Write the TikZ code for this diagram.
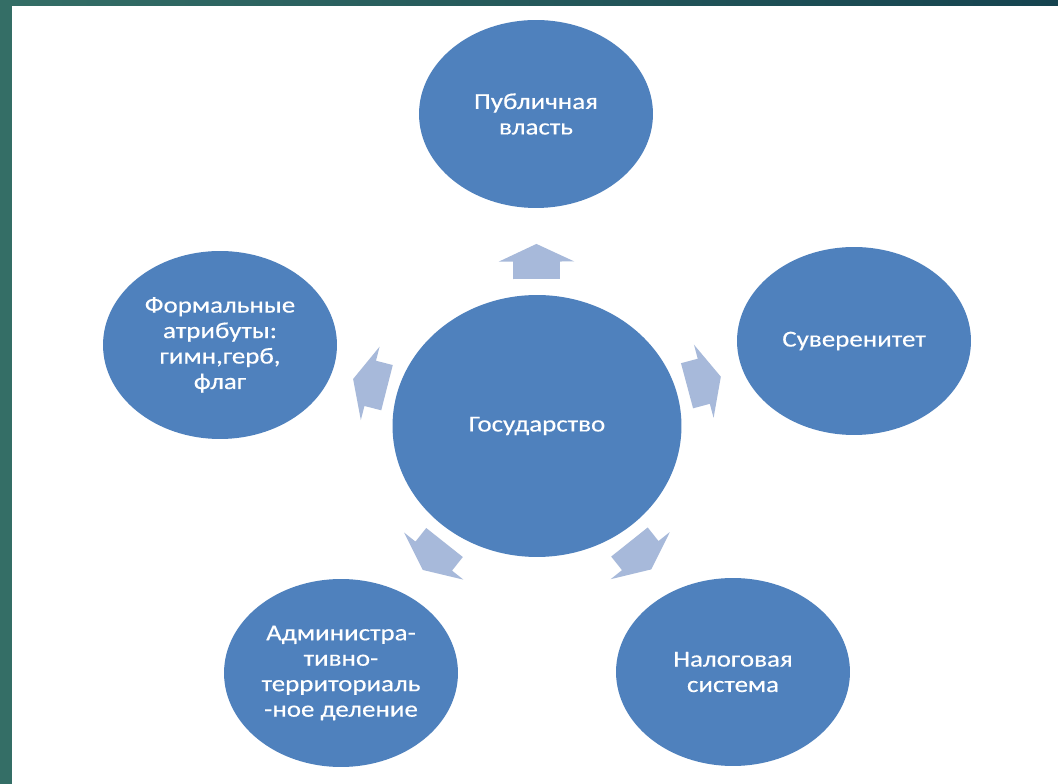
\documentclass[tikz,border=0pt]{standalone}
\usepackage{fontspec}
\setmainfont{Carlito}[FakeStretch=1.18,FakeBold=0.4]
\usetikzlibrary{shapes.geometric,shapes.arrows}
\definecolor{GSblue}{HTML}{4F81BD}
\definecolor{GSpale}{HTML}{A7B9DA}
\definecolor{GSteal}{HTML}{346E66}
\definecolor{GSdeep}{HTML}{15434F}
\tikzset{GSc/.style={ellipse,fill=GSblue,text=white,inner sep=0pt,minimum width=4.68cm,minimum height=3.76cm,
                     align=center,font=\fontsize{13}{14.5}\selectfont},
         GSmain/.style={GSc,minimum width=5.78cm,minimum height=5.24cm},
         GSarr/.style={single arrow,fill=GSpale,inner xsep=0pt,inner ysep=0.46cm,minimum height=0.7cm,
                       single arrow head extend=0.29cm,single arrow tip angle=130,sloped,allow upside down,pos=0.51}}

\begin{document}
\begin{tikzpicture}[x=0.02cm,y=0.02cm]
  % slide frame
  \fill[GSteal] (0,0) rectangle (1058,784);
  \shade[left color=GSteal,right color=GSdeep] (0,778) rectangle (1058,784);
  \fill[white] (12,0) rectangle (1058,778);
  % circles
  \node[GSmain] (gos) at (537,358) {Государство};
  \foreach \x/\y/\n/\t in {536/670/pub/{Публичная\\власть},854/443/suv/{Суверенитет},
                          733/112/nal/{Налоговая\\система},341/111/adm/{Администра-\\тивно-\\территориаль\\-ное деление},
                          220/439/form/{Формальные\\атрибуты:\\гимн,герб,\\флаг}}
    {\node[GSc] (\n) at (\x,\y) {\t};}
  % arrows
  \foreach \n in {pub,suv,nal,adm,form}
    \path (gos.center) -- node[GSarr] (a\n) {} (\n.center);
\end{tikzpicture}
\end{document}
